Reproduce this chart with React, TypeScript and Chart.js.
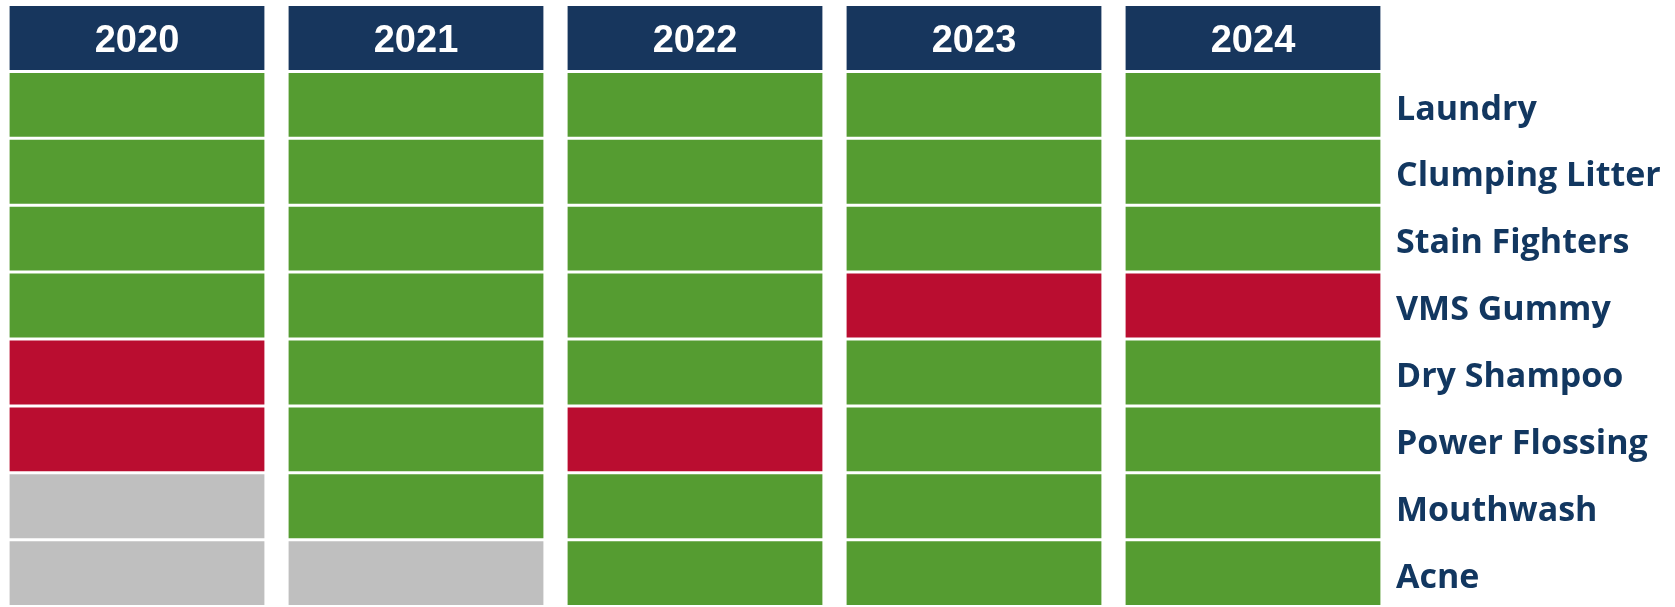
import React, { useEffect, useRef } from "react";
import { Chart, registerables } from "chart.js";

Chart.register(...registerables);

const years = ["2020", "2021", "2022", "2023", "2024"];
const products = [
  "Laundry",
  "Clumping Litter",
  "Stain Fighters",
  "VMS Gummy",
  "Dry Shampoo",
  "Power Flossing",
  "Mouthwash",
  "Acne",
];
// status per year, one entry per product (G = on track, R = off track, N = not applicable)
const status2020 = ["G", "G", "G", "G", "R", "R", "N", "N"];
const status2021 = ["G", "G", "G", "G", "G", "G", "G", "N"];
const status2022 = ["G", "G", "G", "G", "G", "R", "G", "G"];
const status2023 = ["G", "G", "G", "R", "G", "G", "G", "G"];
const status2024 = ["G", "G", "G", "R", "G", "G", "G", "G"];
const statusByYear = [status2020, status2021, status2022, status2023, status2024];

const HEADER = "#17365D";
const LABEL = "#123760";
const COLORS: Record<string, string> = { G: "#559C31", R: "#BA0D30", N: "#BFBFBF" };

const headerText = {
  id: "headerText",
  afterDatasetsDraw(chart: any) {
    const { ctx } = chart;
    const xs = chart.scales.x;
    const ys = chart.scales.y;
    ctx.save();
    ctx.fillStyle = "#FFFFFF";
    ctx.font = "bold 38px 'Liberation Sans', Arial, sans-serif";
    ctx.textAlign = "center";
    ctx.textBaseline = "middle";
    years.forEach((y, i) => {
      ctx.fillText(y, xs.getPixelForValue(i), ys.getPixelForValue(0.5) + 4);
    });
    ctx.restore();
  },
};

export default function App() {
  const ref = useRef<HTMLCanvasElement>(null);
  useEffect(() => {
    if (!ref.current) return;
    const datasets: any[] = [
      {
        label: "Year",
        data: years.map(() => 1),
        backgroundColor: HEADER,
      },
      ...products.map((p, r) => ({
        label: p,
        data: years.map(() => 1),
        backgroundColor: statusByYear.map((s) => COLORS[s[r]]),
      })),
    ];
    datasets.forEach((d) => {
      d.borderColor = "#FFFFFF";
      d.borderWidth = { top: 1.5, bottom: 1.5, left: 0.6, right: 0.6 };
      d.borderSkipped = false;
      d.barPercentage = 256 / 279;
      d.categoryPercentage = 1;
    });
    const chart = new Chart(ref.current, {
      type: "bar",
      data: { labels: years, datasets },
      options: {
        animation: false,
        responsive: false,
        devicePixelRatio: 1,
        layout: { padding: { left: 7.5, top: 4.5, right: 0, bottom: 0.4 } },
        plugins: { legend: { display: false }, tooltip: { enabled: false } },
        scales: {
          x: { type: "category", stacked: true, display: false },
          y: {
            type: "linear",
            stacked: true,
            position: "right",
            reverse: true,
            min: 0,
            max: 9,
            grid: { display: false, drawTicks: false },
            border: { display: false },
            afterFit: (s: any) => {
              s.width = 282.5;
              s.paddingTop = 0;
              s.paddingBottom = 0;
            },
            afterBuildTicks: (s: any) => {
              s.ticks = products.map((_, i) => ({ value: i + 1.5 }));
            },
            ticks: {
              autoSkip: false,
              padding: 3.5,
              labelOffset: 5,
              color: LABEL,
              font: { family: "'Open Sans', sans-serif", weight: "bold", size: 34 },
              callback: (v: any) => products[Math.floor(Number(v)) - 1] ?? "",
            },
          },
        },
      },
      plugins: [headerText],
    });
    return () => chart.destroy();
  }, []);
  return (
    <div style={{ position: "fixed", left: -10, top: 0, width: 1685, height: 607 }}>
      <canvas ref={ref} width={1685} height={607} style={{ display: "block" }} />
    </div>
  );
}
